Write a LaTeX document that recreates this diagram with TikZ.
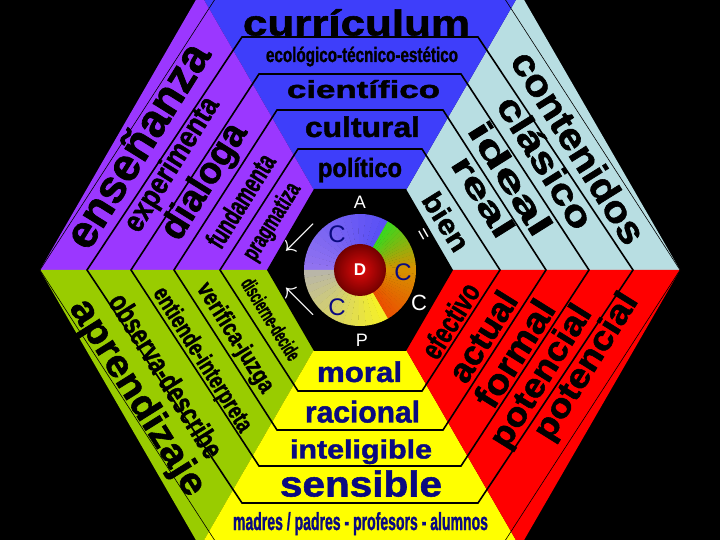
\documentclass[tikz,border=0pt]{standalone}
\usepackage{fontspec}
\usepackage{graphicx}
\newfontfamily\bandfont{Liberation Sans}[BoldFeatures={FakeBold=1.5}]
\newfontfamily\hubfont{Liberation Sans}

\definecolor{hexblue}{RGB}{62,62,250}
\definecolor{hexcyan}{RGB}{184,222,226}
\definecolor{hexred}{RGB}{255,0,0}
\definecolor{hexyellow}{RGB}{255,255,0}
\definecolor{hexgreen}{RGB}{153,204,0}
\definecolor{hexpurple}{RGB}{155,55,255}
\definecolor{navytext}{RGB}{10,10,128}
\definecolor{wheelblue}{RGB}{90,80,245}
\definecolor{wheelviolet}{RGB}{145,115,240}
\definecolor{wheelgray}{RGB}{185,182,168}
\definecolor{wheelyellow}{RGB}{245,240,40}
\definecolor{wheelred}{RGB}{235,80,0}
\definecolor{wheelgold}{RGB}{215,145,0}
\definecolor{wheelgreen}{RGB}{60,215,30}
\definecolor{hubred}{RGB}{225,10,10}
\definecolor{hubdark}{RGB}{115,0,0}

\newcommand{\bandtext}[3]{\resizebox{#1pt}{#2pt}{\raisebox{0pt}[1ex][0pt]{#3}}}
\newcommand{\ringpart}[4]{%
  \foreach \i in {0,...,14}{%
    \pgfmathsetmacro\pct{100-\i*100/14}%
    \pgfmathsetmacro\ang{#1+\i*(#2-#1)/15}%
    \fill[#3!\pct!#4] (0,0) -- (\ang:56) arc[start angle=\ang, delta angle={(#2-#1)/15+0.4}, radius=56] -- cycle;}}

\begin{document}
\begin{tikzpicture}[x=1pt,y=1pt,
    band/.style={inner sep=0pt, font=\bandfont\bfseries},
    bandline/.style={line width=1.6pt, line join=miter},
    hubletter/.style={inner sep=0pt, font=\hubfont\fontsize{20}{20}\selectfont}]

    \useasboundingbox (-360,-270) rectangle (360,270);
    \clip (-360,-270) rectangle (360,270);
    \fill[black] (-360,-270) rectangle (360,270);

    % six coloured sectors
    \foreach \col [count=\k] in {hexcyan,hexblue,hexpurple,hexgreen,hexyellow,hexred}
    \fill[\col] (0,0) -- ({60*(\k-1)}:320) -- ({60*\k}:320) -- cycle;

    % band outlines
    \draw[line width=0.6pt] (320,0) -- (141,277) -- (-141,277) -- (-320,0) -- (-141,-277) -- (141,-277) -- cycle;
    \foreach \rr/\aa/\hh in {140/121/62,186/160/83,229/196/101,273/233/118}
    \draw[bandline] (\rr,0) -- (\hh,\aa) -- (-\hh,\aa) -- (-\rr,0) -- (-\hh,-\aa) -- (\hh,-\aa) -- cycle;
    \fill[black] (93,0) -- (46,81) -- (-46,81) -- (-93,0) -- (-46,-81) -- (46,-81) -- cycle;

    % colour wheel
    \ringpart{60}{180}{wheelblue}{wheelviolet}
    \ringpart{180}{300}{wheelgray}{wheelyellow}
    \ringpart{300}{360}{wheelred}{wheelgold}
    \ringpart{0}{60}{wheelgold}{wheelgreen}
    \node[circle, minimum size=52pt, inner sep=0pt, shading=radial, inner color=hubred, outer color=hubdark] (hub) at (0,0) {};

    % band texts
    \foreach \txt/\x/\y/\w/\h [count=\i] in {currículum/-3.5/244/227/19, ecológico-técnico-estético/2/213.5/192/11,
        científico/3.5/178.5/153/13, cultural/2.5/140.5/115/15, político/0/100/84/14}
    \node[band] (blue\i) at (\x,\y) {\bandtext{\w}{\h}{\txt}};
    \foreach \txt/\x/\y/\w/\h [count=\i] in {contenidos/216/121/220/20, clásico/183/106/150/19,
        ideal/148/90/128/18, real/121/72/90/17, bien/84/47/64/15}
    \node[band, rotate=-58] (cyan\i) at (\x,\y) {\bandtext{\w}{\h}{\txt}};
    \foreach \txt/\x/\y/\w/\h [count=\i] in {enseñanza/-220/123/233/24, experimenta/-187.5/105/153/16,
        dialoga/-155/88/130/20, fundamenta/-117.5/68/105/15, pragmatiza/-87.5/48/87/13}
    \node[band, rotate=58] (purple\i) at (\x,\y) {\bandtext{\w}{\h}{\txt}};
    \foreach \txt/\x/\y/\w/\h [count=\i] in {potencial/227/-97/167/18, potencial/182/-107/162/18,
        formal/157/-85/120/19, actual/125/-68/100/18, efectivo/92.5/-52/83/16}
    \node[band, rotate=58] (red\i) at (\x,\y) {\bandtext{\w}{\h}{\txt}};
    \foreach \txt/\x/\y/\w/\h [count=\i] in {aprendizaje/-223/-128/225/20, observa-describe/-196/-107/188/16,
        entiende-interpreta/-158/-90/166/13, verifica-juzga/-125/-68/125/13, discierne-decide/-90.5/-50/93/11}
    \node[band, rotate=-58] (green\i) at (\x,\y) {\bandtext{\w}{\h}{\txt}};
    \foreach \txt/\x/\y/\w/\h [count=\i] in {{madres / padres - profesors - alumnos}/0.5/-253.5/255/13,
        sensible/1/-217/162/19, inteligible/1/-181.5/142/14, racional/2.5/-144.5/115/16, moral/-0.5/-104.5/85/15}
    \node[band, text=navytext] (yellow\i) at (\x,\y) {\bandtext{\w}{\h}{\txt}};

    % letters round the wheel
    \node[hubletter, white, font=\hubfont\bfseries\fontsize{17}{17}\selectfont] (lettD) at (hub) {D};
    \node[hubletter, white, font=\hubfont\fontsize{18}{18}\selectfont] (lettA) at (0,68) {A};
    \node[hubletter, text=navytext, font=\hubfont\fontsize{24}{24}\selectfont] (lettC1) at (-23,36) {C};
    \node[hubletter, white, rotate=-60] (lettEq) at (62,35) {=};
    \node[hubletter, text=navytext, font=\hubfont\fontsize{24}{24}\selectfont] (lettC2) at (43,-2) {C};
    \node[hubletter, white, font=\hubfont\fontsize{22}{22}\selectfont] (lettC3) at (59,-33) {C};
    \node[hubletter, text=navytext, font=\hubfont\fontsize{24}{24}\selectfont] (lettC4) at (-23,-37) {C};
    \node[hubletter, white, font=\hubfont\fontsize{18}{18}\selectfont] (lettP) at (2,-70) {P};
    \node[hubletter, white] (arrowIn) at (-60,32) {\scalebox{1.5}{$\swarrow$}};
    \node[hubletter, white] (arrowOut) at (-60,-32) {\scalebox{1.5}{$\nwarrow$}};
\end{tikzpicture}
\end{document}
